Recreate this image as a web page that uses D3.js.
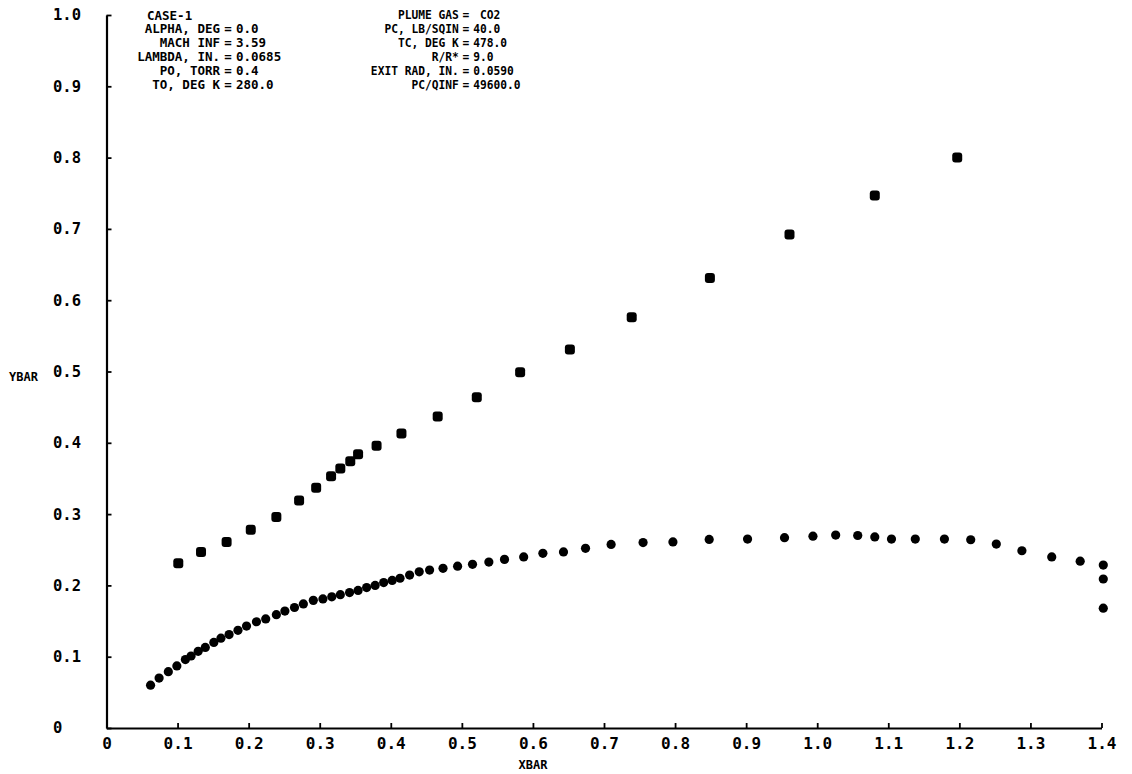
<!DOCTYPE html>
<html>
<head>
<meta charset="utf-8">
<script src="https://cdn.jsdelivr.net/npm/d3@7"></script>
<style>
  html, body { margin: 0; padding: 0; background: #fff; }
  svg { display: block; }
  text { font-family: "DejaVu Sans Mono", "Liberation Mono", monospace; font-weight: bold; fill: #000; }
</style>
</head>
<body>
<svg id="chart" width="1132" height="774"></svg>
<script>
// ---- data ----
const xTickValues = [0, 0.1, 0.2, 0.3, 0.4, 0.5, 0.6, 0.7, 0.8, 0.9, 1.0, 1.1, 1.2, 1.3, 1.4];
const xTickLabels = ["0", "0.1", "0.2", "0.3", "0.4", "0.5", "0.6", "0.7", "0.8", "0.9", "1.0", "1.1", "1.2", "1.3", "1.4"];
const yTickValues = [0, 0.1, 0.2, 0.3, 0.4, 0.5, 0.6, 0.7, 0.8, 0.9, 1.0];
const yTickLabels = ["0", "0.1", "0.2", "0.3", "0.4", "0.5", "0.6", "0.7", "0.8", "0.9", "1.0"];

// upper series (boundary) XBAR / YBAR
const upperX = [0.101, 0.133, 0.169, 0.203, 0.239, 0.271, 0.295, 0.316, 0.329, 0.343, 0.354, 0.380, 0.415, 0.466, 0.521, 0.582, 0.652, 0.739, 0.849, 0.961, 1.081, 1.197];
const upperY = [0.231, 0.247, 0.261, 0.278, 0.296, 0.319, 0.337, 0.353, 0.364, 0.374, 0.384, 0.396, 0.413, 0.437, 0.464, 0.499, 0.531, 0.576, 0.631, 0.692, 0.747, 0.800];

// lower series XBAR / YBAR
const lowerX = [0.062, 0.074, 0.087, 0.099, 0.111, 0.119, 0.129, 0.139, 0.151, 0.161, 0.1725, 0.185, 0.197, 0.211, 0.224, 0.239, 0.251, 0.2645, 0.277,
  0.291, 0.3045, 0.317, 0.329, 0.342, 0.354, 0.366, 0.378, 0.390, 0.402, 0.413, 0.4265, 0.440, 0.4546, 0.4735, 0.494, 0.515, 0.538,
  0.560, 0.587, 0.614, 0.643, 0.674, 0.710, 0.755, 0.797, 0.848, 0.902, 0.954, 0.994, 1.026,
  1.057, 1.081, 1.1045, 1.138, 1.179, 1.216, 1.252, 1.288, 1.330, 1.370, 1.4025, 1.4025, 1.4025];
const lowerY = [0.060, 0.070, 0.079, 0.087, 0.096, 0.101, 0.1075, 0.113, 0.120, 0.126, 0.131, 0.137, 0.143, 0.149, 0.153, 0.159, 0.164, 0.169, 0.174,
  0.179, 0.181, 0.184, 0.187, 0.190, 0.193, 0.197, 0.200, 0.204, 0.207, 0.210, 0.2145, 0.219, 0.2215, 0.224, 0.227, 0.2295, 0.2327,
  0.2365, 0.240, 0.245, 0.247, 0.252, 0.2575, 0.260, 0.261, 0.2645, 0.265, 0.267, 0.269, 0.2706,
  0.270, 0.268, 0.265, 0.265, 0.265, 0.264, 0.258, 0.2486, 0.240, 0.234, 0.2285, 0.209, 0.168];

// annotation text
const leftLabels = ["ALPHA, DEG", "MACH INF", "LAMBDA, IN.", "PO, TORR", "TO, DEG K"];
const leftValues = ["0.0", "3.59", "0.0685", "0.4", "280.0"];
const rightLabels = ["PLUME GAS", "PC, LB/SQIN", "TC, DEG K", "R/R*", "EXIT RAD, IN.", "PC/QINF"];
const rightValues = [" CO2", "40.0", "478.0", "9.0", "0.0590", "49600.0"];
const caseTitle = "CASE-1";
const xTitle = "XBAR";
const yTitle = "YBAR";

// ---- drawing ----
const svg = d3.select("#chart");
const x = d3.scaleLinear().domain([0, 1.4]).range([106.5, 1101.5]);
const y = d3.scaleLinear().domain([0, 1.0]).range([728, 15]);

const xAxis = d3.axisBottom(x).tickValues(xTickValues)
  .tickFormat((d, i) => xTickLabels[i]).tickSize(-5).tickSizeOuter(0).tickPadding(10);
const gx = svg.append("g").attr("transform", `translate(0,${y(0)})`).call(xAxis);
gx.select(".domain").attr("stroke", "#000").attr("stroke-width", 2.2);
gx.selectAll(".tick line").attr("stroke", "#000").attr("stroke-width", 1.8);
gx.selectAll(".tick text").attr("font-size", 16).attr("font-family", "DejaVu Sans Mono").attr("font-weight", "bold").attr("fill", "#000");

const yAxis = d3.axisLeft(y).tickValues(yTickValues)
  .tickFormat((d, i) => yTickLabels[i]).tickSize(-5).tickSizeOuter(0).tickPadding(6);
const gy = svg.append("g").attr("transform", `translate(${x(0)},0)`).call(yAxis);
gy.select(".domain").attr("stroke", "#000").attr("stroke-width", 2.2);
gy.selectAll(".tick line").attr("stroke", "#000").attr("stroke-width", 1.8);
gy.selectAll(".tick text").attr("font-size", 15.5).attr("font-family", "DejaVu Sans Mono").attr("font-weight", "bold").attr("fill", "#000")
  .attr("text-anchor", "start").attr("x", 53 - x(0));

// axis titles
svg.append("text").attr("x", 533).attr("y", 769).attr("text-anchor", "middle")
  .attr("font-size", 12).text(xTitle);
svg.append("text").attr("x", 9).attr("y", 381).attr("text-anchor", "start")
  .attr("font-size", 12).text(yTitle);

// upper series markers (rounded squares)
const upper = upperX.map((v, i) => ({ x: v, y: upperY[i] }));
svg.append("g").selectAll("rect").data(upper).join("rect")
  .attr("x", d => x(d.x) - 5).attr("y", d => y(d.y) - 5)
  .attr("width", 10).attr("height", 10).attr("rx", 3).attr("fill", "#000");

// lower series markers (dots)
const lower = lowerX.map((v, i) => ({ x: v, y: lowerY[i] }));
svg.append("g").selectAll("circle").data(lower).join("circle")
  .attr("cx", d => x(d.x)).attr("cy", d => y(d.y)).attr("r", 4.6).attr("fill", "#000");

// annotation block
const lh = 13.9;
const top0 = 19.5;
const leftEq = 228, rightEq = 466;
const annL = svg.append("g").attr("font-size", 12.5);
annL.append("text").attr("x", 147).attr("y", top0).text(caseTitle);
leftLabels.forEach((t, i) => {
  const yy = top0 + lh * (i + 1);
  annL.append("text").attr("x", leftEq - 8).attr("y", yy).attr("text-anchor", "end").text(t);
  annL.append("text").attr("x", leftEq).attr("y", yy).attr("text-anchor", "middle").text("=");
  annL.append("text").attr("x", leftEq + 8).attr("y", yy).attr("text-anchor", "start").text(leftValues[i]);
});
const annR = svg.append("g").attr("font-size", 12.5)
  .attr("transform", `translate(${rightEq},0) scale(0.9,1)`);
rightLabels.forEach((t, i) => {
  const yy = top0 + lh * i;
  annR.append("text").attr("x", -8).attr("y", yy).attr("text-anchor", "end").text(t);
  annR.append("text").attr("x", 0).attr("y", yy).attr("text-anchor", "middle").text("=");
  annR.append("text").attr("x", 8).attr("y", yy).attr("text-anchor", "start").style("white-space", "pre").text(rightValues[i]);
});
</script>
</body>
</html>
